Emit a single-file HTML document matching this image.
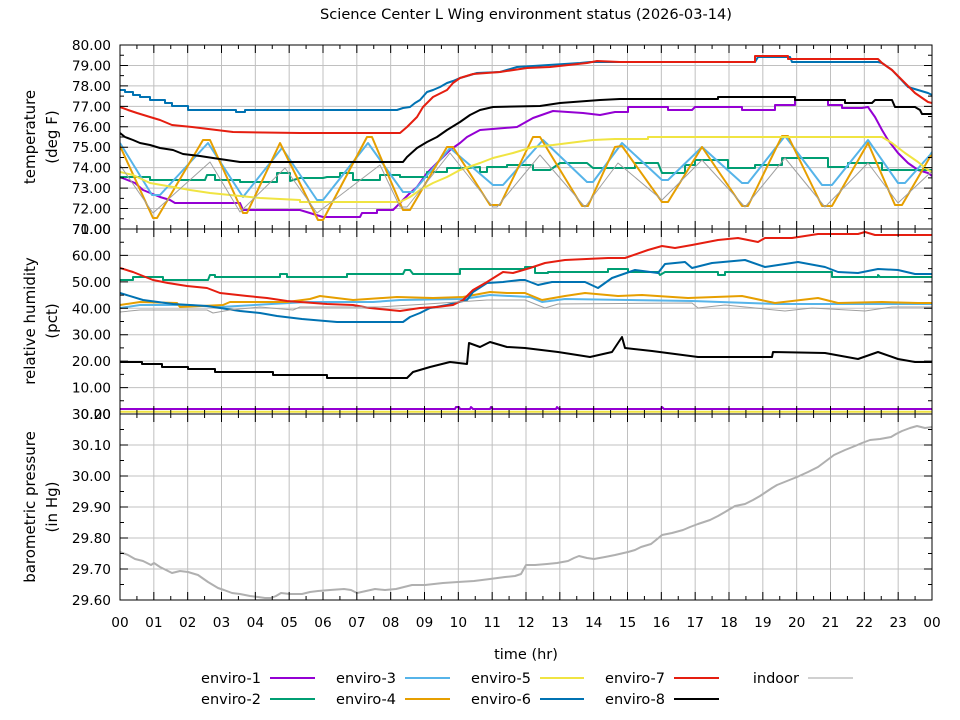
<!DOCTYPE html>
<html><head><meta charset="utf-8"><style>
html,body{margin:0;padding:0;background:#fff;}
svg{display:block;font-family:"DejaVu Sans","Liberation Sans",sans-serif;}
</style></head><body>
<svg width="960" height="720" viewBox="0 0 960 720" xmlns="http://www.w3.org/2000/svg">
<defs>
<clipPath id="c1"><rect x="120" y="45" width="812" height="184"/></clipPath>
<clipPath id="c2"><rect x="120" y="229" width="812" height="185"/></clipPath>
<clipPath id="c3"><rect x="120" y="414" width="812" height="186"/></clipPath>
<path id="mj" d="M0 45v8M0 221v16M0 406v16M0 592v8"/>
<path id="mn" d="M0 45v4M0 225v8M0 410v8M0 596v4"/>
</defs>
<rect width="960" height="720" fill="#fff"/>

<!-- grid -->
<g stroke="#c0c0c0" stroke-width="1" fill="none">
<path d="M153.83 45V600M187.67 45V600M221.5 45V600M255.33 45V600M289.17 45V600M323 45V600M356.83 45V600M390.67 45V600M424.5 45V600M458.33 45V600M492.17 45V600M526 45V600M559.83 45V600M593.67 45V600M627.5 45V600M661.33 45V600M695.17 45V600M729 45V600M762.83 45V600M796.67 45V600M830.5 45V600M864.33 45V600M898.17 45V600"/>
<path d="M120 65.44H932M120 85.89H932M120 106.33H932M120 126.78H932M120 147.22H932M120 167.67H932M120 188.11H932M120 208.56H932"/>
<path d="M120 387.57H932M120 361.14H932M120 334.71H932M120 308.29H932M120 281.86H932M120 255.43H932"/>
<path d="M120 569H932M120 538H932M120 507H932M120 476H932M120 445H932"/>
</g>

<!-- temperature -->
<g clip-path="url(#c1)" fill="none" stroke-width="2" stroke-linejoin="round">
<polyline stroke="#9400d3" points="120,177 135,183 143,190 160,197 170,200 175,203 240,203 243,210 300,210 323,217 360,217 362,213 377,213 377,210 393,210 400,203 410,193 417,187 427,173 440,160 450,150 460,143 467,137 480,130 517,127 533,118 553,111 583,113 600,115 615,112 628,112 628,107 668,107 668,110 692,110 695,107 742,107 742,110 775,110 775,105 795,105 795,100 828,100 828,105 842,105 842,108 862,108 868,107 875,117 882,130 888,140 898,153 908,163 918,170 928,173 932,176"/>
<polyline stroke="#009e73" points="120,177 150,177 150,180 205,180 207,175 215,175 215,180 240,180 240,182 277,182 277,173 290,173 290,181 300,178 323,178 327,177 340,177 340,173 353,173 353,180 380,180 380,175 400,175 400,177 427,177 427,172 447,172 447,168 467,168 480,167 480,172 487,172 487,167 507,167 507,165 533,165 533,170 550,170 560,163 587,163 593,168 635,168 635,163 658,163 662,173 685,173 685,165 695,165 695,160 728,160 728,168 755,168 755,165 782,165 782,158 828,158 828,167 848,167 848,163 882,163 882,170 932,170"/>
<polyline stroke="#56b4e9" points="120,143 152,195 160,195 208,143 243,197 282,148 317,200 323,200 368,143 403,192 413,192 450,148 493,185 503,185 543,140 587,182 593,182 622,143 662,180 668,180 702,147 742,183 748,183 785,136 822,185 832,185 868,140 898,183 905,183 930,155 932,152"/>
<polyline stroke="#e69f00" points="120,146 153,218 157,218 203,140 210,140 243,213 247,213 280,143 318,220 323,220 367,137 372,137 403,210 410,210 447,147 453,147 490,205 500,205 533,137 540,137 582,206 588,206 615,147 622,146 662,202 668,202 702,147 742,206 748,206 782,136 788,136 822,206 832,206 868,143 895,205 902,205 930,157 932,155"/>
<polyline stroke="#f0e442" points="120,172 133,175 150,183 173,187 190,190 210,193 230,195 260,198 300,200 300,202 400,202 410,197 420,190 433,183 447,177 460,170 480,163 493,158 513,153 533,147 553,145 593,140 615,139 648,139 648,137 882,137 892,143 905,153 918,162 928,170 932,172"/>
<polyline stroke="#0072b2" points="120,90 125,90 125,92 133,92 133,95 140,95 140,97 150,97 150,100 165,100 165,103 172,103 172,106 188,106 188,110 236,110 236,112 245,112 245,110 397,110 403,108 410,107 415,103 420,100 427,92 433,90 440,87 447,83 453,81 460,78 467,76 477,73 500,72 517,67 533,66 580,63 590,62 755,62 758,57 790,57 792,62 878,62 882,63 892,70 908,87 928,93 932,95"/>
<polyline stroke="#e51e10" points="120,107 128,110 137,113 150,117 160,120 172,125 192,127 233,132 300,133 400,133 407,127 417,117 423,107 433,97 447,90 453,83 460,78 473,74 500,72 527,68 550,67 587,63 597,61 620,62 755,62 755,56 788,56 788,59 878,59 882,63 892,70 902,80 915,93 928,102 932,103"/>
<polyline stroke="#000000" points="120,133 125,137 133,140 140,143 150,145 160,148 173,150 183,154 200,156 213,158 240,162 403,162 407,157 417,148 427,142 437,137 447,130 460,122 470,115 480,110 493,107 540,106 560,103 600,100 620,99 718,99 718,97 795,97 795,100 845,100 845,103 872,103 875,100 892,100 895,107 915,107 920,110 922,114 932,114"/>
<polyline stroke="#a0a0a0" stroke-width="1" points="120,165 153,213 210,162 240,212 285,168 317,213 380,165 400,207 407,207 450,153 493,207 497,207 540,155 585,207 618,163 662,200 702,160 745,207 785,158 825,207 868,163 898,203 930,173 932,172"/>
</g>

<!-- humidity -->
<g clip-path="url(#c2)" fill="none" stroke-width="2" stroke-linejoin="round">
<polyline stroke="#9400d3" points="120,409 455,409 456,407 459,407 460,409 470,409 471,407 473,409 490,409 491,407 493,409 556,409 557,407 559,409 661,409 662,407 664,409 932,409"/>
<polyline stroke="#009e73" points="120,280 133,280 133,277 163,277 163,280 208,280 210,275 215,275 215,277 280,277 280,274 287,274 287,277 347,277 347,274 403,274 405,270 410,270 413,274 460,274 460,269 525,269 525,267 535,267 535,273 548,273 548,272 608,272 608,269 628,269 628,272 658,272 660,275 665,272 718,272 718,275 725,275 725,272 832,272 832,277 878,277 878,275 880,277 932,277"/>
<polyline stroke="#56b4e9" points="120,308 140,305 187,305 220,307 307,302 373,302 400,300 463,299 490,295 530,297 542,302 565,299 692,301 778,304 932,304"/>
<polyline stroke="#e69f00" points="120,305 140,302 177,303 180,307 223,305 230,302 287,302 310,299 320,296 353,300 397,297 433,298 463,297 490,292 507,293 525,293 542,300 565,296 585,293 618,296 642,295 688,298 742,296 775,303 818,298 838,303 882,302 918,303 932,303"/>
<polyline stroke="#f0e442" points="120,411.7 932,411.7"/>
<polyline stroke="#0072b2" points="120,293 143,300 173,304 207,306 240,311 260,313 277,316 302,319 337,322 403,322 410,317 420,313 430,308 447,305 467,300 473,292 487,283 503,282 520,280 525,280 538,285 552,282 585,282 598,288 612,278 635,270 658,273 665,264 685,262 692,268 712,263 745,260 765,267 798,262 825,267 838,272 858,273 878,269 898,270 915,274 932,274"/>
<polyline stroke="#e51e10" points="120,268 133,272 153,280 168,283 187,286 207,288 220,293 247,296 267,298 287,301 327,304 353,305 370,308 400,311 420,308 437,307 453,305 463,300 473,290 487,282 503,272 513,273 530,268 545,263 565,260 608,258 625,258 648,250 662,246 675,248 692,245 718,240 738,238 758,242 765,238 792,238 805,236 818,234 858,234 865,232 875,235 932,235"/>
<polyline stroke="#000000" points="120,362 142,362 142,364 162,364 162,367 188,367 188,369 215,369 215,372 273,372 273,375 327,375 327,378 407,378 413,372 430,367 450,362 467,364 469,343 480,347 490,342 507,347 525,348 558,352 590,357 612,352 622,337 625,348 652,351 698,357 772,357 773,352 825,353 858,359 878,352 898,359 915,362 932,362"/>
<polyline stroke="#a0a0a0" stroke-width="1" points="120,312 140,310 207,310 213,313 230,310 260,307 293,310 300,307 380,307 427,304 487,300 525,300 545,308 558,304 692,303 698,308 725,305 785,311 812,308 865,311 892,307 932,307"/>
</g>

<!-- pressure -->
<g clip-path="url(#c3)" fill="none">
<polyline stroke="#b0b0b0" stroke-width="2" stroke-linejoin="round" points="120,552 128,555 135,559 143,561 151,565 154,563 160,567 172,573 180,571 188,572 198,575 208,582 218,588 224,590 232,593 240,594 250,596 258,597 265,598 271,598 276,596 281,593 290,594 302,594 310,592 318,591 330,590 344,589 351,590 357,593 366,591 375,589 385,590 396,589 404,587 412,585 425,585 443,583 458,582 474,581 490,579 505,577 515,576 521,574 526,565 535,565 547,564 557,563 568,561 574,558 579,556 587,558 594,559 605,557 615,555 628,552 635,550 641,547 651,544 656,540 662,535 672,533 683,530 690,527 698,524 710,520 718,516 725,512 735,506 745,504 753,500 760,496 766,492 772,488 777,485 787,481 797,477 808,472 818,467 826,461 834,455 845,450 855,446 862,443 870,440 880,439 891,437 896,434 902,431 910,428 917,426 925,428 932,427"/>
</g>

<!-- borders & ticks -->
<g stroke="#000" stroke-width="1" fill="none">
<rect x="120" y="45" width="812" height="555"/>
<path d="M120 229H932M120 414H932"/>
<use href="#mj" x="153.83"/><use href="#mj" x="187.67"/><use href="#mj" x="221.5"/><use href="#mj" x="255.33"/><use href="#mj" x="289.17"/><use href="#mj" x="323"/><use href="#mj" x="356.83"/><use href="#mj" x="390.67"/><use href="#mj" x="424.5"/><use href="#mj" x="458.33"/><use href="#mj" x="492.17"/><use href="#mj" x="526"/><use href="#mj" x="559.83"/><use href="#mj" x="593.67"/><use href="#mj" x="627.5"/><use href="#mj" x="661.33"/><use href="#mj" x="695.17"/><use href="#mj" x="729"/><use href="#mj" x="762.83"/><use href="#mj" x="796.67"/><use href="#mj" x="830.5"/><use href="#mj" x="864.33"/><use href="#mj" x="898.17"/>
<use href="#mn" x="136.92"/><use href="#mn" x="170.75"/><use href="#mn" x="204.58"/><use href="#mn" x="238.42"/><use href="#mn" x="272.25"/><use href="#mn" x="306.08"/><use href="#mn" x="339.92"/><use href="#mn" x="373.75"/><use href="#mn" x="407.58"/><use href="#mn" x="441.42"/><use href="#mn" x="475.25"/><use href="#mn" x="509.08"/><use href="#mn" x="542.92"/><use href="#mn" x="576.75"/><use href="#mn" x="610.58"/><use href="#mn" x="644.42"/><use href="#mn" x="678.25"/><use href="#mn" x="712.08"/><use href="#mn" x="745.92"/><use href="#mn" x="779.75"/><use href="#mn" x="813.58"/><use href="#mn" x="847.42"/><use href="#mn" x="881.25"/><use href="#mn" x="915.08"/>
<path d="M120 65.44h8M120 85.89h8M120 106.33h8M120 126.78h8M120 147.22h8M120 167.67h8M120 188.11h8M120 208.56h8M932 65.44h-8M932 85.89h-8M932 106.33h-8M932 126.78h-8M932 147.22h-8M932 167.67h-8M932 188.11h-8M932 208.56h-8"/>
<path d="M120 55.22h4M120 75.67h4M120 96.11h4M120 116.56h4M120 137h4M120 157.44h4M120 177.89h4M120 198.33h4M120 218.78h4M932 55.22h-4M932 75.67h-4M932 96.11h-4M932 116.56h-4M932 137h-4M932 157.44h-4M932 177.89h-4M932 198.33h-4M932 218.78h-4"/>
<path d="M120 387.57h8M120 361.14h8M120 334.71h8M120 308.29h8M120 281.86h8M120 255.43h8M932 387.57h-8M932 361.14h-8M932 334.71h-8M932 308.29h-8M932 281.86h-8M932 255.43h-8"/>
<path d="M120 400.79h4M120 374.36h4M120 347.93h4M120 321.5h4M120 295.07h4M120 268.64h4M120 242.21h4M932 400.79h-4M932 374.36h-4M932 347.93h-4M932 321.5h-4M932 295.07h-4M932 268.64h-4M932 242.21h-4"/>
<path d="M120 569h8M120 538h8M120 507h8M120 476h8M120 445h8M932 569h-8M932 538h-8M932 507h-8M932 476h-8M932 445h-8"/>
<path d="M120 584.5h4M120 553.5h4M120 522.5h4M120 491.5h4M120 460.5h4M120 429.5h4M932 584.5h-4M932 553.5h-4M932 522.5h-4M932 491.5h-4M932 460.5h-4M932 429.5h-4"/>
</g>

<!-- y tick labels -->
<g font-size="13.7" fill="#000" text-anchor="end">
<text x="111" y="50">80.00</text>
<text x="111" y="70.4">79.00</text>
<text x="111" y="90.9">78.00</text>
<text x="111" y="111.3">77.00</text>
<text x="111" y="131.8">76.00</text>
<text x="111" y="152.2">75.00</text>
<text x="111" y="172.7">74.00</text>
<text x="111" y="193.1">73.00</text>
<text x="111" y="213.6">72.00</text>
<text x="111" y="234">71.00</text>
<text x="111" y="234">70.00</text>
<text x="111" y="260.4">60.00</text>
<text x="111" y="286.9">50.00</text>
<text x="111" y="313.3">40.00</text>
<text x="111" y="339.7">30.00</text>
<text x="111" y="366.1">20.00</text>
<text x="111" y="392.6">10.00</text>
<text x="111" y="419">0.00</text>
<text x="111" y="419">30.20</text>
<text x="111" y="450">30.10</text>
<text x="111" y="481">30.00</text>
<text x="111" y="512">29.90</text>
<text x="111" y="543">29.80</text>
<text x="111" y="574">29.70</text>
<text x="111" y="605">29.60</text>
</g>

<!-- x tick labels -->
<g font-size="13.7" fill="#000" text-anchor="middle">
<text x="120" y="627">00</text><text x="153.83" y="627">01</text><text x="187.67" y="627">02</text><text x="221.5" y="627">03</text><text x="255.33" y="627">04</text><text x="289.17" y="627">05</text><text x="323" y="627">06</text><text x="356.83" y="627">07</text><text x="390.67" y="627">08</text><text x="424.5" y="627">09</text><text x="458.33" y="627">10</text><text x="492.17" y="627">11</text><text x="526" y="627">12</text><text x="559.83" y="627">13</text><text x="593.67" y="627">14</text><text x="627.5" y="627">15</text><text x="661.33" y="627">16</text><text x="695.17" y="627">17</text><text x="729" y="627">18</text><text x="762.83" y="627">19</text><text x="796.67" y="627">20</text><text x="830.5" y="627">21</text><text x="864.33" y="627">22</text><text x="898.17" y="627">23</text><text x="932" y="627">00</text>
</g>

<!-- titles -->
<text x="526" y="19" font-size="14.5" text-anchor="middle" textLength="412" lengthAdjust="spacingAndGlyphs">Science Center L Wing environment status (2026-03-14)</text>
<text x="526" y="659" font-size="14.5" text-anchor="middle">time (hr)</text>
<g font-size="15" text-anchor="middle">
<text transform="translate(35,137) rotate(-90)">temperature</text>
<text transform="translate(57,137) rotate(-90)">(deg F)</text>
<text transform="translate(35,321) rotate(-90)">relative humidity</text>
<text transform="translate(57,321) rotate(-90)">(pct)</text>
<text transform="translate(35,507) rotate(-90)">barometric pressure</text>
<text transform="translate(57,507) rotate(-90)">(in Hg)</text>
</g>

<!-- legend -->
<g font-size="14.5" text-anchor="end">
<text x="261" y="683">enviro-1</text>
<text x="261" y="704">enviro-2</text>
<text x="396" y="683">enviro-3</text>
<text x="396" y="704">enviro-4</text>
<text x="531" y="683">enviro-5</text>
<text x="531" y="704">enviro-6</text>
<text x="665" y="683">enviro-7</text>
<text x="665" y="704">enviro-8</text>
<text x="799" y="683">indoor</text>
</g>
<g stroke-width="2" fill="none">
<path d="M270 678H315" stroke="#9400d3"/>
<path d="M270 699H315" stroke="#009e73"/>
<path d="M405 678H450" stroke="#56b4e9"/>
<path d="M405 699H450" stroke="#e69f00"/>
<path d="M540 678H584" stroke="#f0e442"/>
<path d="M540 699H584" stroke="#0072b2"/>
<path d="M674 678H719" stroke="#e51e10"/>
<path d="M674 699H719" stroke="#000000"/>
<path d="M808 678H853" stroke="#a0a0a0" stroke-width="1"/>
</g>
</svg>
</body></html>
